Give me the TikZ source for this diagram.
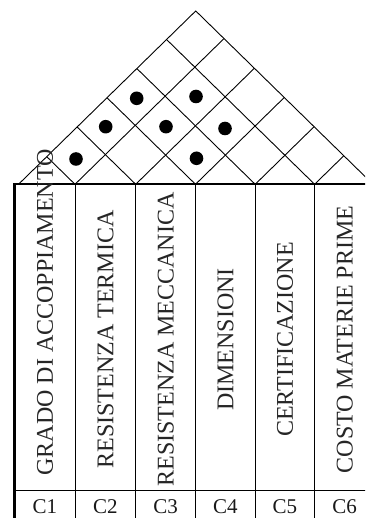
\documentclass[tikz,border=0pt]{standalone}
\usepackage{fontspec}
\setmainfont{Liberation Serif}
\begin{document}
\begin{tikzpicture}[x=1pt,y=-1pt,
  gridline/.style={line width=0.9pt, black},
  borderline/.style={line width=2pt, black},
  colname/.style={rotate=90, anchor=base, inner sep=0pt, text=black!85, font=\fontsize{24}{28}\selectfont},
  colcode/.style={anchor=base, inner sep=0pt, text=black!90, font=\fontsize{21}{25}\selectfont},
  corrdot/.style={fill=black}]
\useasboundingbox (0,0) rectangle (365,518);
\clip (0,0) rectangle (365,518);
\def\yb{184.3}
\def\xl{18.5}
\def\xr{373}
\def\sl{0.978}
% roof
\coordinate (L) at (\xl,\yb);
\coordinate (R) at (\xr,\yb);
\coordinate (A) at ({(\xl+\xr)/2},{\yb-\sl*(\xr-\xl)/2});
\draw[gridline, line join=miter] (L) -- (A) -- (R);
\foreach \xb in {75,135.7,195.5,255.2,314.6}{
  \draw[gridline] ({(\xl+\xb)/2},{\yb-\sl*(\xb-\xl)/2}) -- (\xb,\yb) -- ({(\xb+\xr)/2},{\yb-\sl*(\xr-\xb)/2});
}
% correlation dots
\foreach \p in {(76,159),(105.7,126.7),(136.7,98.3),(166,126.7),(196,96.5),(225,128.5),(196.5,158.3)}
  \fill[corrdot] \p circle (6.8pt);
% columns
\foreach \xb in {75,135.7,195.5,255.2,314.6,374.6}
  \draw[gridline] (\xb,\yb) -- (\xb,530);
\draw[line width=2.7pt] (14.7,183.3) -- (14.7,530);
\draw[borderline] (13.3,\yb) -- (380,\yb);
\draw[gridline] (13.3,490.7) -- (380,490.7);
% column names
\node[colname] (t1) at (52.9,312.5) {GRADO DI ACCOPPIAMENTO};
\node[colname] (t2) at (113.4,339.5) {RESISTENZA TERMICA};
\node[colname] (t3) at (173.6,339.5) {RESISTENZA MECCANICA};
\node[colname] (t4) at (233.4,339.5) {DIMENSIONI};
\node[colname] (t5) at (292.9,339.5) {CERTIFICAZIONE};
\node[colname] (t6) at (352.6,339.5) {COSTO MATERIE PRIME};
% column codes
\node[colcode] (c1) at (44.9,513.3) {C1};
\node[colcode] (c2) at (105.4,513.3) {C2};
\node[colcode] (c3) at (165.6,513.3) {C3};
\node[colcode] (c4) at (225.4,513.3) {C4};
\node[colcode] (c5) at (284.9,513.3) {C5};
\node[colcode] (c6) at (344.6,513.3) {C6};
\end{tikzpicture}
\end{document}
